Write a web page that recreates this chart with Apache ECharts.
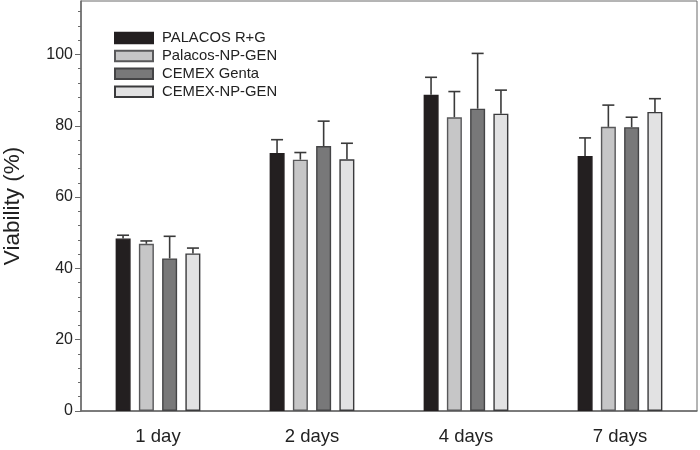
<!DOCTYPE html>
<html>
<head>
<meta charset="utf-8">
<script src="https://cdn.jsdelivr.net/npm/echarts@6/dist/echarts.min.js"></script>
<style>
  html, body { margin: 0; padding: 0; background: #fff; }
  #main { width: 700px; height: 450px; }
</style>
</head>
<body>
<div id="main"></div>
<script>
// categories and groups
var days = ['1 day', '2 days', '4 days', '7 days'];
var groupNames = ['PALACOS R+G', 'Palacos-NP-GEN', 'CEMEX Genta', 'CEMEX-NP-GEN'];

// mean viability (%) per group
var palacosRG   = [48.4, 72.4, 88.7, 71.5];
var palacosNP   = [46.9, 70.5, 82.4, 79.7];
var cemexGenta  = [42.8, 74.3, 84.8, 79.6];
var cemexNP     = [44.2, 70.6, 83.4, 83.9];

// upper end of error bar (mean + SD)
var palacosRGTop  = [49.3, 76.1, 93.6, 76.6];
var palacosNPTop  = [47.7, 72.5, 89.6, 85.8];
var cemexGentaTop = [49.0, 81.3, 100.3, 82.4];
var cemexNPTop    = [45.7, 75.1, 90.0, 87.6];

// tick values
var majorTicks = [0, 20, 40, 60, 80, 100];
var minorTicks = [4, 8, 12, 16, 24, 28, 32, 36, 44, 48, 52, 56, 64, 68, 72, 76, 84, 88, 92, 96, 104, 108, 112];

var means = [palacosRG, palacosNP, cemexGenta, cemexNP];
var tops = [palacosRGTop, palacosNPTop, cemexGentaTop, cemexNPTop];
var fills = ['#231f20', '#c6c6c7', '#787879', '#e2e2e3'];
var borders = ['#231f20', '#58585a', '#444446', '#3a3a3c'];

var font = '"Liberation Sans", Arial, sans-serif';
var barW = 15;
var pitch = 23.3;

var chartDom = document.getElementById('main');
var myChart = echarts.init(chartDom, null, { renderer: 'canvas' });

function errRender(idx) {
    return function (params, api) {
        var cat = api.value(0);
        var base = api.coord([cat, api.value(1)]);
        var top = api.coord([cat, api.value(2)]);
        var x = base[0] + (idx - 1.5) * pitch;
        var style = { stroke: '#3a3a3a', lineWidth: 1.6 };
        return {
            type: 'group',
            children: [
                { type: 'line', shape: { x1: x, y1: base[1], x2: x, y2: top[1] }, style: style },
                { type: 'line', shape: { x1: x - 6, y1: top[1], x2: x + 6, y2: top[1] }, style: style }
            ]
        };
    };
}

var series = [];
groupNames.forEach(function (name, i) {
    series.push({
        name: name,
        type: 'bar',
        barWidth: barW,
        barGap: '55%',
        data: means[i],
        itemStyle: { color: fills[i], borderColor: borders[i], borderWidth: 1.4 },
        z: 2
    });
});
groupNames.forEach(function (name, i) {
    series.push({
        name: 'err' + i,
        type: 'custom',
        renderItem: errRender(i),
        data: days.map(function (d, j) { return [j, means[i][j], tops[i][j]]; }),
        encode: { x: 0, y: 2 },
        z: 3,
        silent: true
    });
});

var option = {
    animation: false,
    textStyle: { fontFamily: font },
    grid: {
        left: 81, right: 3, top: 1, bottom: 39,
        outerBoundsMode: 'none',
        containLabel: false,
        show: true, borderColor: '#6a6a6a', borderWidth: 1
    },
    legend: {
        data: groupNames,
        orient: 'vertical',
        left: 114,
        top: 30.5,
        padding: 0,
        itemWidth: 38,
        itemHeight: 10.5,
        itemGap: 2.9,
        icon: 'rect',
        textStyle: { fontSize: 14.8, color: '#222', fontFamily: font, lineHeight: 12, padding: [0, 0, 0, 4] }
    },
    xAxis: {
        type: 'category',
        data: days,
        axisLine: { lineStyle: { color: '#6a6a6a', width: 1.5 } },
        axisTick: { show: false },
        axisLabel: { fontSize: 18.5, color: '#222', margin: 16, fontFamily: font }
    },
    yAxis: [
        {
            type: 'value',
            min: 0,
            max: 115,
            position: 'left',
            name: 'Viability (%)',
            nameLocation: 'middle',
            nameGap: 57,
            nameTextStyle: { fontSize: 22.5, color: '#222', fontFamily: font },
            axisLine: { show: true, lineStyle: { color: '#6a6a6a', width: 1.5 } },
            axisTick: { show: true, length: 6, customValues: majorTicks, lineStyle: { color: '#6a6a6a' } },
            axisLabel: { customValues: majorTicks, fontSize: 16, color: '#222', margin: 8, fontFamily: font },
            splitLine: { show: false }
        },
        {
            type: 'value',
            min: 0,
            max: 115,
            position: 'left',
            offset: 0,
            axisLine: { show: false },
            axisTick: { show: true, length: 3, customValues: minorTicks, lineStyle: { color: '#6a6a6a' } },
            axisLabel: { show: false },
            splitLine: { show: false }
        }
    ],
    series: series
};

option && myChart.setOption(option);
</script>
</body>
</html>
